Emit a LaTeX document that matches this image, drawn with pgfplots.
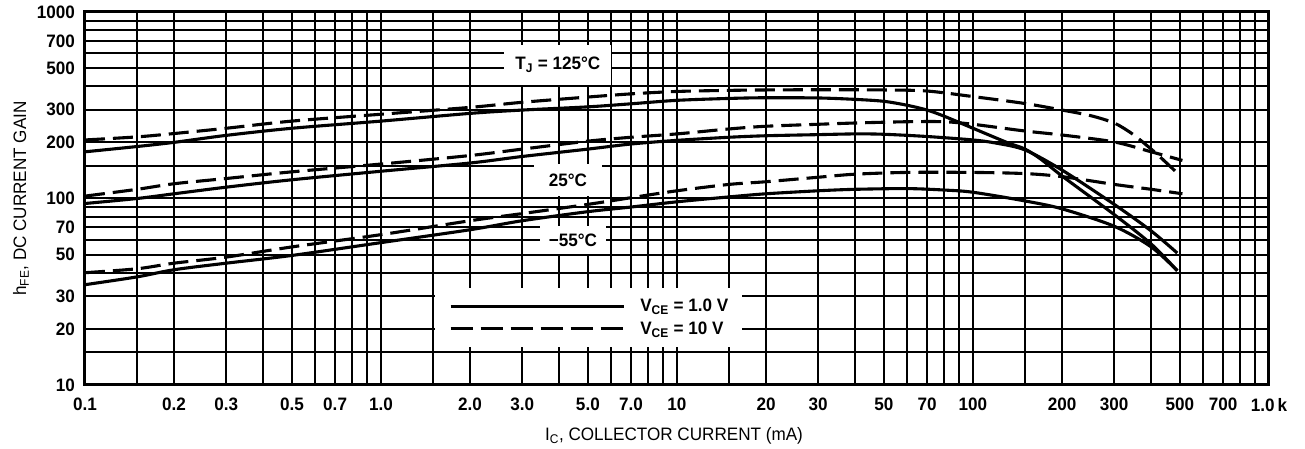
\documentclass[border=0pt]{standalone}
\usepackage{fontspec}
\setmainfont{Liberation Sans}[FakeStretch=0.95]
\usepackage{pgfplots}
\pgfplotsset{compat=1.18}

\begin{document}
\begin{tikzpicture}
\path[use as bounding box] (-85bp,-64bp) rectangle (1220bp,385bp);
\begin{axis}[
    at={(0,0)}, anchor=south west,
    width=1184bp, height=373bp, scale only axis,
    xmode=log, ymode=log,
    xmin=0.1, xmax=1000, ymin=10, ymax=1000,
    xtick={0.1,0.2,0.3,0.5,0.7,1,2,3,5,7,10,20,30,50,70,100,200,300,500,700,1000},
    xticklabels={0.1,0.2,0.3,0.5,0.7,1.0,2.0,3.0,5.0,7.0,10,20,30,50,70,100,200,300,500,700,1.0\,k},
    minor xtick={0.15,0.4,0.6,0.8,0.9,1.5,4,6,8,9,15,40,60,80,90,150,400,600,800,900},
    ytick={10,20,30,50,70,100,200,300,500,700,1000},
    yticklabels={10,20,30,50,70,100,200,300,500,700,1000},
    minor ytick={15,40,60,80,90,150,400,600,800,900},
    grid=both,
    major grid style={black, line width=2bp},
    minor grid style={black, line width=2bp},
    major tick length=0pt, minor tick length=0pt,
    axis line style={black, line width=3bp},
    tick label style={font=\fontsize{18bp}{20bp}\selectfont\bfseries, inner sep=0pt},
    xticklabel style={anchor=north, yshift=-13bp},
    yticklabel style={anchor=east, xshift=-10bp},
    xlabel={I\textsubscript{C}, COLLECTOR CURRENT (mA)},
    ylabel={h\textsubscript{FE}, DC CURRENT GAIN},
    every axis x label/.style={at={(axis description cs:0.4975,-0.137)}, anchor=center,
        font=\fontsize{18bp}{20bp}\selectfont},
    every axis y label/.style={at={(axis description cs:-0.054,0.5)}, anchor=center, rotate=90,
        font=\fontsize{18bp}{20bp}\selectfont},
    legend image code/.code={\draw[#1] (0bp,0bp) -- (173bp,0bp);},
    legend style={at={(axis description cs:0.2956,0.26)}, anchor=north west,
        draw=none, fill=white, inner xsep=14bp, inner ysep=11bp,
        row sep=8.5bp, column sep=15bp,
        font=\fontsize{18bp}{20bp}\selectfont\bfseries,
        nodes={inner sep=0pt}},
    legend cell align=left,
]
% TJ = 125 C, VCE = 1.0 V
\addplot[black, line width=3.1bp, smooth, tension=0.5, forget plot] coordinates {(0.1,178) (0.15,190) (0.2,200) (0.3,218) (0.5,238) (1,260) (2,286) (3,298) (5,310) (7,322) (10,336) (15,344) (20,347) (30,346) (40,340) (50,332) (60,316) (70,298) (80,276) (100,238) (130,200) (150,184) (170,162) (200,132) (300,82) (400,57) (490,41)};
% TJ = 125 C, VCE = 10 V
\addplot[black, line width=3.1bp, smooth, tension=0.5, forget plot, dash pattern=on 20bp off 8bp] coordinates {(0.1,206) (0.15,214) (0.2,223) (0.3,238) (0.5,260) (1,283) (2,308) (3,328) (5,350) (7,364) (10,375) (15,380) (20,382) (30,383) (50,382) (70,377) (100,352) (150,323) (200,298) (250,278) (300,254) (340,226) (370,204) (420,172) (490,137)};
% TJ = 25 C, VCE = 1.0 V
\addplot[black, line width=3.1bp, smooth, tension=0.5, forget plot] coordinates {(0.1,94) (0.15,100) (0.2,106) (0.3,115) (0.5,126) (1,140) (2,155) (3,168) (5,184) (7,196) (10,205) (15,213) (20,217) (30,220) (40,222) (50,221) (70,215) (100,206) (120,198) (150,182) (200,142) (300,93) (400,67) (490,51)};
% TJ = 25 C, VCE = 10 V
\addplot[black, line width=3.1bp, smooth, tension=0.5, forget plot, dash pattern=on 20bp off 8bp] coordinates {(0.1,103) (0.15,112) (0.2,120) (0.3,128) (0.5,139) (1,153) (2,170) (3,184) (5,203) (7,213) (10,222) (15,236) (20,244) (30,250) (40,254) (60,258) (80,258) (100,250) (150,230) (200,219) (300,201) (400,178) (510,160)};
% TJ = -55 C, VCE = 1.0 V
\addplot[black, line width=3.1bp, smooth, tension=0.5, forget plot] coordinates {(0.1,34.5) (0.15,38) (0.2,41.5) (0.3,45) (0.5,49.5) (1,58) (2,68) (3,76) (5,85) (7,90) (10,96) (15,102) (20,106) (30,110) (40,112) (60,113) (80,111) (100,108) (150,97) (200,88) (300,71) (400,55) (490,41)};
% TJ = -55 C, VCE = 10 V
\addplot[black, line width=3.1bp, smooth, tension=0.5, forget plot, dash pattern=on 20bp off 8bp] coordinates {(0.1,40) (0.15,42) (0.2,45) (0.3,48.5) (0.5,55) (1,64) (2,76) (3,83) (5,93) (7,101) (10,110) (15,119) (20,123) (30,130) (40,135) (60,138) (100,138) (150,136) (200,131) (300,119) (400,112) (510,106)};

\addlegendimage{black, line width=3.1bp}
\addlegendentry{V\textsubscript{CE} = 1.0 V}
\addlegendimage{black, line width=3.1bp, dash pattern=on 22bp off 8bp}
\addlegendentry{V\textsubscript{CE} = 10 V}

\node[fill=white, inner sep=0pt, minimum width=107bp, minimum height=40bp,
      font=\fontsize{18bp}{20bp}\selectfont\bfseries] at (axis cs:3.96,519) {T\textsubscript{J} = 125°C};
\node[fill=white, inner sep=0pt, minimum width=68bp, minimum height=32bp,
      font=\fontsize{18bp}{20bp}\selectfont\bfseries] at (axis cs:4.28,125) {25°C};
\node[fill=white, inner sep=0pt, minimum width=66bp, minimum height=28bp,
      font=\fontsize{18bp}{20bp}\selectfont\bfseries] at (axis cs:4.45,60) {−55°C};
\end{axis}
\end{tikzpicture}
\end{document}
